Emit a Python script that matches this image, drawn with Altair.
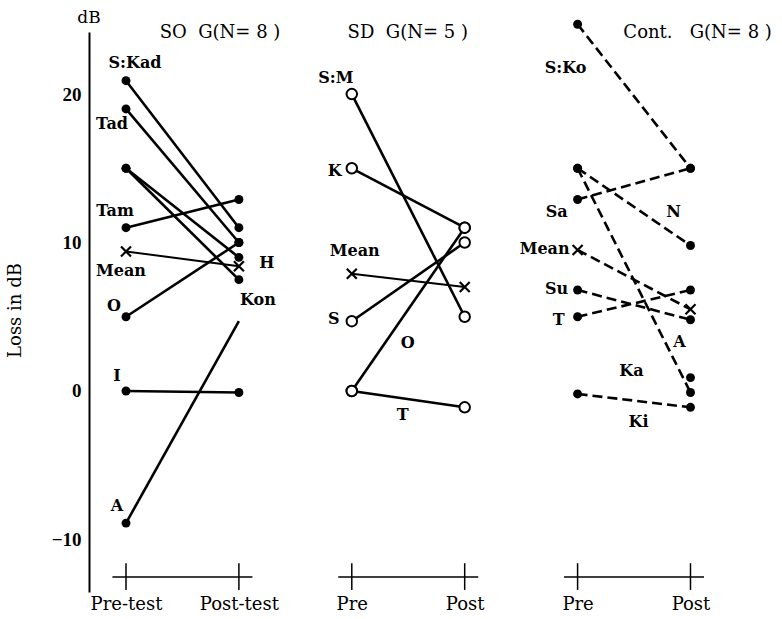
import altair as alt
import pandas as pd

# ---------------- data (dB) ----------------
groups = ["SO", "SD", "Cont"]
group_titles = ["SO\u00a0\u00a0G(N=\u00a08\u00a0)", "SD\u00a0\u00a0G(N=\u00a05\u00a0)",
                "Cont.\u00a0\u00a0\u00a0G(N=\u00a08\u00a0)"]
x_labels = ["Pre-test", "Post-test", "Pre", "Post", "Pre", "Post"]

so_subjects = ["Kad", "Tad", "Tam", "O", "I", "A", "H", "Kon", "Mean"]
so_pre = [20.9, 19.0, 11.0, 5.0, 0.0, -8.9, 15.0, 15.0, 9.4]
so_post = [11.0, 10.0, 12.9, 10.0, -0.1, 4.7, 9.0, 7.5, 8.4]

sd_subjects = ["M", "K", "S", "O", "T", "Mean"]
sd_pre = [20.0, 15.0, 4.7, 0.0, 0.0, 7.9]
sd_post = [5.0, 11.0, 10.0, 11.0, -1.1, 7.0]

cont_subjects = ["Ko", "Sa", "N", "A", "Su", "T", "Ki", "Ka", "Mean"]
cont_pre = [24.7, 12.9, 15.0, 15.0, 6.8, 5.0, -0.2, None, 9.5]
cont_post = [15.0, 15.0, 9.8, -0.1, 4.8, 6.8, -1.1, 0.9, 5.5]

# points drawn without a marker in the original
no_marker = [("SO", "A", "post")]

# ---------------- build long table ----------------
rows = []
for gi, (g, subs, pre, post) in enumerate([
        ("SO", so_subjects, so_pre, so_post),
        ("SD", sd_subjects, sd_pre, sd_post),
        ("Cont", cont_subjects, cont_pre, cont_post)]):
    for s, a, b in zip(subs, pre, post):
        for ph, v, off in (("pre", a, 0), ("post", b, 1)):
            if v is None:
                continue
            rows.append(dict(group=g, subject=s, phase=ph, x=gi * 2 + off, value=v,
                             key=g + "_" + s, mean=(s == "Mean"),
                             marker=(g, s, ph) not in no_marker))
df = pd.DataFrame(rows)

FONT = "DejaVu Serif"
X = alt.X("x:Q", scale=alt.Scale(domain=[-0.3277, 5.784], nice=False, zero=False),
          axis=alt.Axis(values=[0, 1, 2, 3, 4, 5], title=None, grid=False, domain=False,
                        ticks=False, labelExpr="%s[datum.value]" % str(x_labels),
                        labelFont=FONT, labelFontSize=18, labelColor="black",
                        labelPadding=3, labelOverlap=False, labelFlush=False))
Y = alt.Y("value:Q", scale=alt.Scale(domain=[-13.54, 24.18], nice=False, zero=False),
          axis=alt.Axis(values=[-10, 0, 10, 20], grid=False, ticks=False,
                        domainColor="black", domainWidth=2,
                        labelFont="Liberation Serif", labelFontWeight="bold",
                        labelFontSize=19, labelColor="black", labelPadding=8,
                        title="Loss in dB", titleFont=FONT, titleFontSize=18,
                        titleFontWeight="normal", titleColor="black",
                        titleX=-74, titleY=278, titleBaseline="middle"))

base = alt.Chart(df)

# bottom group axes
grp = pd.DataFrame({"x": [0, 2, 4], "xe": [1, 3, 5]})
grp_line = alt.Chart(grp).transform_calculate(
    x0="datum.x - 0.12", x1="datum.xe + 0.12", yy="-12.53"
).mark_rule(color="black", strokeWidth=1.5).encode(
    x=alt.X("x0:Q"), x2="x1:Q", y=alt.Y("yy:Q"))
tk = pd.DataFrame({"x": [0, 1, 2, 3, 4, 5]})
grp_ticks = alt.Chart(tk).transform_calculate(
    y0="-11.6", y1="-13.4"
).mark_rule(color="black", strokeWidth=1.5).encode(
    x=alt.X("x:Q"), y=alt.Y("y0:Q"), y2="y1:Q")

solid = base.transform_filter("datum.group != 'Cont' && !datum.mean").mark_line(
    color="black", strokeWidth=2.6).encode(x=X, y=Y, detail="key:N")
mean_solid = base.transform_filter("datum.group != 'Cont' && datum.mean").mark_line(
    color="black", strokeWidth=2).encode(x="x:Q", y="value:Q", detail="key:N")
dashed = base.transform_filter("datum.group == 'Cont'").mark_line(
    color="black", strokeWidth=2.6, strokeDash=[10, 5]).encode(
    x="x:Q", y="value:Q", detail="key:N")

dots = base.transform_filter(
    "datum.group != 'SD' && !datum.mean && datum.marker").mark_circle(
    color="black", size=80, opacity=1).encode(x="x:Q", y="value:Q")
rings = base.transform_filter("datum.group == 'SD' && !datum.mean").mark_point(
    shape="circle", filled=True, fill="white", stroke="black", strokeWidth=2,
    size=110, opacity=1).encode(x="x:Q", y="value:Q")
xs = base.transform_filter("datum.mean").mark_point(
    shape="M-1,-1L1,1M1,-1L-1,1", filled=False, stroke="black", strokeWidth=2.2,
    size=100, opacity=1).encode(x="x:Q", y="value:Q")

# subject labels: (group, subject, phase, text, dx, dy, align)
labels = [
    ("SO", "Kad", "pre", "S:Kad", 9, -18, "center"),
    ("SO", "Tad", "pre", "Tad", -14, 15, "center"),
    ("SO", "Tam", "pre", "Tam", -11, -17, "center"),
    ("SO", "Mean", "pre", "Mean", -5, 20, "center"),
    ("SO", "O", "pre", "O", -12, -11, "center"),
    ("SO", "I", "pre", "I", -9, -15, "center"),
    ("SO", "A", "pre", "A", -9, -17, "center"),
    ("SO", "H", "post", "H", 28, 6, "center"),
    ("SO", "Kon", "post", "Kon", 19, 20, "center"),
    ("SD", "M", "pre", "S:M", -16, -16, "center"),
    ("SD", "K", "pre", "K", -17, 3, "center"),
    ("SD", "Mean", "pre", "Mean", 3, -23, "center"),
    ("SD", "S", "pre", "S", -18, -2, "center"),
    ("SD", "O", "pre", "O", 56, -48, "center"),
    ("SD", "T", "pre", "T", 51, 24, "center"),
    ("Cont", "Ko", "pre", "S:Ko", -12, 44, "center"),
    ("Cont", "Sa", "pre", "Sa", -21, 13, "center"),
    ("Cont", "N", "pre", "N", 96, 44, "center"),
    ("Cont", "Mean", "pre", "Mean", -8, -1, "right"),
    ("Cont", "Su", "pre", "Su", -21, -1, "center"),
    ("Cont", "T", "pre", "T", -19, 3, "center"),
    ("Cont", "A", "post", "A", -11, -50, "center"),
    ("Cont", "Ka", "post", "Ka", -59, -7, "center"),
    ("Cont", "Ki", "post", "Ki", -52, 15, "center"),
]
label_layers = []
for g, s, ph, txt, dx, dy, al in labels:
    label_layers.append(
        base.transform_filter(
            "datum.group == '%s' && datum.subject == '%s' && datum.phase == '%s'" % (g, s, ph)
        ).mark_text(text=txt, dx=dx, dy=dy, align=al, baseline="middle", font=FONT,
                    fontSize=16, fontWeight="bold", color="black").encode(
            x="x:Q", y="value:Q"))

# group titles
tdf = pd.DataFrame({"x": [0, 2, 4], "title": group_titles, "shift": [94, 56, 120]})
title_layers = []
for i in range(3):
    title_layers.append(
        alt.Chart(tdf.iloc[[i]]).mark_text(
            dx=int(tdf["shift"][i]), align="center", baseline="middle", font=FONT,
            fontSize=18, color="black").encode(x="x:Q", y=alt.value(1), text="title:N"))

# unit label at top of the y axis
unit = alt.Chart(pd.DataFrame({"u": ["dB"]})).mark_text(
    align="center", baseline="middle", font=FONT, fontSize=17, color="black"
).encode(x=alt.value(0), y=alt.value(-14), text="u:N")

chart = alt.layer(
    grp_line, grp_ticks, solid, mean_solid, dashed, dots, rings, xs,
    *label_layers, *title_layers, unit
).properties(
    width=690, height=560,
    autosize=alt.AutoSizeParams(type="none"),
    padding={"left": 89, "top": 32, "right": 3, "bottom": 27},
    background="white",
).configure_view(stroke=None)

chart.save("out.html", embed_options={"renderer": "svg", "actions": False})
